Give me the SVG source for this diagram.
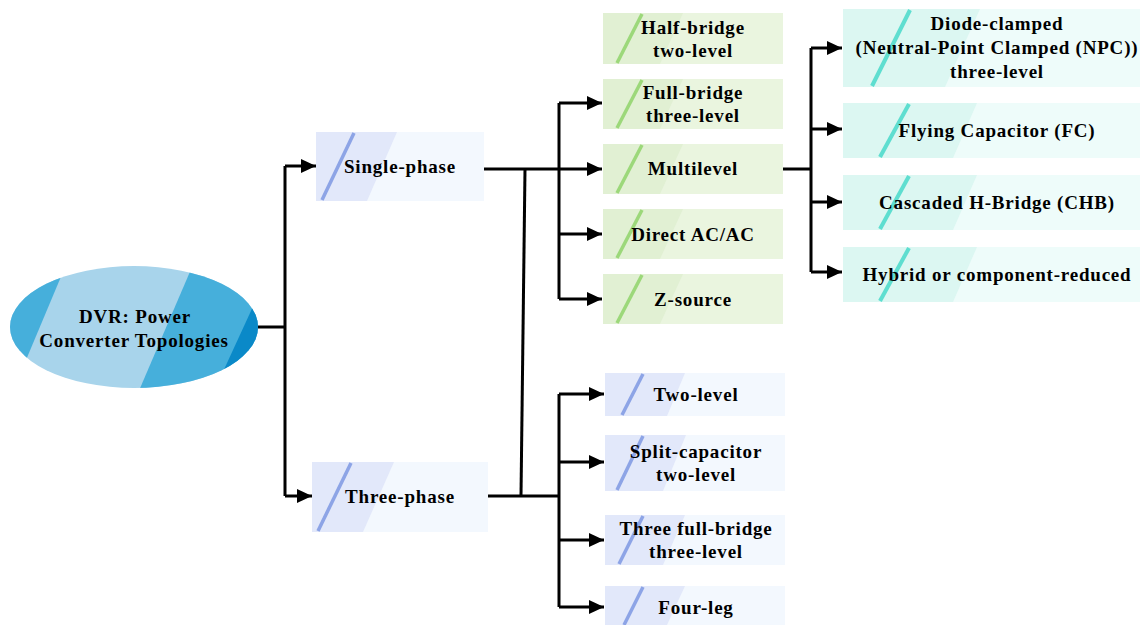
<svg xmlns="http://www.w3.org/2000/svg" width="1140" height="625" viewBox="0 0 1140 625">
<defs>
<marker id="ah" markerUnits="userSpaceOnUse" markerWidth="15" markerHeight="14" refX="15" refY="7" orient="auto"><path d="M0,0 L15,7 L0,14 z" fill="#000"/></marker>
<clipPath id="ec"><ellipse cx="134" cy="327" rx="124" ry="61"/></clipPath>
</defs>
<style>
text{font-family:"Liberation Serif","Times New Roman",serif;font-weight:bold;font-size:19px;letter-spacing:0.8px;fill:#000;text-anchor:middle;dominant-baseline:central}
.conn{fill:none;stroke:#000;stroke-width:3}
.bf{fill:#F3F8FE}.bl{fill:#E2E8FA}.bs{stroke:#8DA4E6;stroke-width:3.5}
.gf{fill:#EAF5DF}.gl{fill:#E1F0D3}.gs{stroke:#9CD87A;stroke-width:3.5}
.tf{fill:#EEFCFA}.tl{fill:#DCF7F2}.ts{stroke:#5EDED0;stroke-width:4}
</style>
<rect width="1140" height="625" fill="#fff"/>

<g id="connectors">
<path class="conn" d="M258,327 H285 M285,166 V496"/>
<path class="conn" d="M285,166 H316" marker-end="url(#ah)"/>
<path class="conn" d="M285,496 H312" marker-end="url(#ah)"/>
<path class="conn" d="M484,169 H602" marker-end="url(#ah)"/>
<path class="conn" d="M559,103 V299"/>
<path class="conn" d="M559,103 H602" marker-end="url(#ah)"/>
<path class="conn" d="M559,234 H602" marker-end="url(#ah)"/>
<path class="conn" d="M559,299 H602" marker-end="url(#ah)"/>
<path class="conn" d="M525,169 L521,496"/>
<path class="conn" d="M488,496 H559 M559,394 V607"/>
<path class="conn" d="M559,394 H604" marker-end="url(#ah)"/>
<path class="conn" d="M559,462 H604" marker-end="url(#ah)"/>
<path class="conn" d="M559,540 H604" marker-end="url(#ah)"/>
<path class="conn" d="M559,607 H604" marker-end="url(#ah)"/>
<path class="conn" d="M783,169 H811 M811,48 V272"/>
<path class="conn" d="M811,48 H842" marker-end="url(#ah)"/>
<path class="conn" d="M811,129 H842" marker-end="url(#ah)"/>
<path class="conn" d="M811,202 H842" marker-end="url(#ah)"/>
<path class="conn" d="M811,272 H842" marker-end="url(#ah)"/>
</g>

<g id="root">
<g clip-path="url(#ec)">
<rect x="0" y="260" width="270" height="140" fill="#A8D4EB"/>
<polygon points="0,260 68,260 26,360 0,400" fill="#46AFDB"/>
<polygon points="195,260 270,260 270,400 135,400" fill="#46AFDB"/>
<polygon points="256,300 270,300 270,400 210,400" fill="#0A89C8"/>
</g>
<text x="135" y="316">DVR: Power</text>
<text x="134" y="340">Converter Topologies</text>
</g>

<g id="single-phase">
<rect class="bf" x="316" y="132" width="168" height="69"/>
<polygon class="bl" points="316,132 397,132 367,201 316,201"/>
<line class="bs" x1="354" y1="133" x2="322" y2="200"/>
<text x="400" y="166">Single-phase</text>
</g>

<g id="three-phase">
<rect class="bf" x="312" y="462" width="176" height="70"/>
<polygon class="bl" points="312,462 394,462 363,532 312,532"/>
<line class="bs" x1="351" y1="463" x2="318" y2="531"/>
<text x="400" y="496">Three-phase</text>
</g>

<g id="half-bridge">
<rect class="gf" x="603" y="13" width="180" height="51"/>
<polygon class="gl" points="603,13 683,13 660,64 603,64"/>
<line class="gs" x1="642" y1="14" x2="617" y2="63"/>
<text x="693" y="27">Half-bridge</text>
<text x="693" y="50">two-level</text>
</g>

<g id="full-bridge">
<rect class="gf" x="603" y="79" width="180" height="50"/>
<polygon class="gl" points="603,79 683,79 660,129 603,129"/>
<line class="gs" x1="642" y1="80" x2="617" y2="128"/>
<text x="693" y="92">Full-bridge</text>
<text x="693" y="115">three-level</text>
</g>

<g id="multilevel">
<rect class="gf" x="603" y="144" width="180" height="50"/>
<polygon class="gl" points="603,144 683,144 660,194 603,194"/>
<line class="gs" x1="642" y1="145" x2="617" y2="193"/>
<text x="693" y="168">Multilevel</text>
</g>

<g id="direct-acac">
<rect class="gf" x="603" y="209" width="180" height="50"/>
<polygon class="gl" points="603,209 683,209 660,259 603,259"/>
<line class="gs" x1="642" y1="210" x2="617" y2="258"/>
<text x="693" y="234">Direct AC/AC</text>
</g>

<g id="z-source">
<rect class="gf" x="603" y="274" width="180" height="50"/>
<polygon class="gl" points="603,274 683,274 660,324 603,324"/>
<line class="gs" x1="642" y1="275" x2="617" y2="323"/>
<text x="693" y="299">Z-source</text>
</g>

<g id="diode-clamped">
<rect class="tf" x="843" y="9" width="297" height="78"/>
<polygon class="tl" points="843,9 980,9 945,87 843,87"/>
<line class="ts" x1="910" y1="10" x2="872" y2="86"/>
<text x="997" y="23">Diode-clamped</text>
<text x="997" y="47">(Neutral-Point Clamped (NPC))</text>
<text x="997" y="71">three-level</text>
</g>

<g id="flying-capacitor">
<rect class="tf" x="843" y="103" width="297" height="55"/>
<polygon class="tl" points="843,103 977,103 953,158 843,158"/>
<line class="ts" x1="909" y1="104" x2="880" y2="157"/>
<text x="997" y="130">Flying Capacitor (FC)</text>
</g>

<g id="cascaded-h-bridge">
<rect class="tf" x="843" y="175" width="297" height="55"/>
<polygon class="tl" points="843,175 977,175 953,230 843,230"/>
<line class="ts" x1="909" y1="176" x2="880" y2="229"/>
<text x="997" y="202">Cascaded H-Bridge (CHB)</text>
</g>

<g id="hybrid">
<rect class="tf" x="843" y="247" width="297" height="55"/>
<polygon class="tl" points="843,247 977,247 953,302 843,302"/>
<line class="ts" x1="909" y1="248" x2="880" y2="301"/>
<text x="997" y="274">Hybrid or component-reduced</text>
</g>

<g id="two-level">
<rect class="bf" x="605" y="373" width="180" height="43"/>
<polygon class="bl" points="605,373 685,373 667,416 605,416"/>
<line class="bs" x1="643" y1="374" x2="622" y2="415"/>
<text x="696" y="394">Two-level</text>
</g>

<g id="split-capacitor">
<rect class="bf" x="605" y="435" width="180" height="56"/>
<polygon class="bl" points="605,435 686,435 663,491 605,491"/>
<line class="bs" x1="643" y1="436" x2="617" y2="490"/>
<text x="696" y="451">Split-capacitor</text>
<text x="696" y="474">two-level</text>
</g>

<g id="three-full-bridge">
<rect class="bf" x="605" y="515" width="180" height="50"/>
<polygon class="bl" points="605,515 685,515 663,565 605,565"/>
<line class="bs" x1="643" y1="516" x2="619" y2="564"/>
<text x="696" y="528">Three full-bridge</text>
<text x="696" y="551">three-level</text>
</g>

<g id="four-leg">
<rect class="bf" x="605" y="586" width="180" height="39"/>
<polygon class="bl" points="605,586 685,586 667,625 605,625"/>
<line class="bs" x1="643" y1="587" x2="624" y2="625"/>
<text x="696" y="607">Four-leg</text>
</g>
</svg>
